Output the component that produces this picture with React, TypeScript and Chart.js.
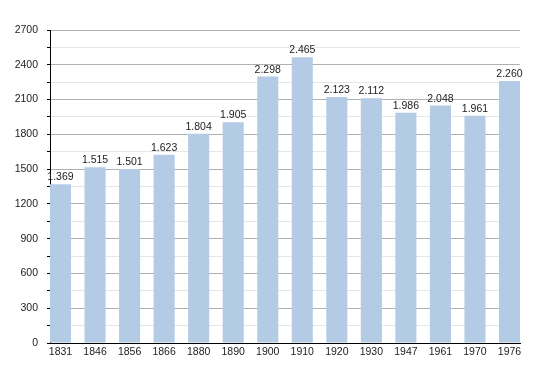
import React, { useEffect, useRef } from "react";
import { Chart, registerables } from "chart.js";

Chart.register(...registerables);

const years = ["1831", "1846", "1856", "1866", "1880", "1890", "1900", "1910", "1920", "1930", "1947", "1961", "1970", "1976"];
const population = [1369, 1515, 1501, 1623, 1804, 1905, 2298, 2465, 2123, 2112, 1986, 2048, 1961, 2260];
const yMax = 2700;
const yMajorStep = 300;
const yMinorStep = 150;

const FONT = "'Liberation Sans', Arial, Helvetica, sans-serif";
const FS = 10.5;

function fmt(v: number): string {
  return String(v).replace(/\B(?=(\d{3})+(?!\d))/g, ".");
}

const valueLabels = {
  id: "valueLabels",
  afterDatasetsDraw(chart: any) {
    const ctx = chart.ctx;
    const meta = chart.getDatasetMeta(0);
    ctx.save();
    ctx.font = `${FS}px ${FONT}`;
    ctx.fillStyle = "#222";
    ctx.textAlign = "center";
    ctx.textBaseline = "alphabetic";
    meta.data.forEach((el: any, i: number) => {
      ctx.fillText(fmt(population[i]), el.x, el.y - 4);
    });
    ctx.restore();
  },
};

export default function App() {
  const ref = useRef<HTMLCanvasElement>(null);
  useEffect(() => {
    if (!ref.current) return;
    const chart = new Chart(ref.current, {
      type: "bar",
      data: {
        datasets: [
          {
            data: population.map((v, i) => ({ x: i, y: v })),
            backgroundColor: "#b3cbe4",
            borderWidth: 0,
            categoryPercentage: 1,
            barPercentage: 0.61,
          },
        ],
      },
      options: {
        responsive: false,
        animation: false,
        devicePixelRatio: 1,
        layout: { padding: { left: 0, top: 30, right: 30, bottom: 0 } },
        plugins: { legend: { display: false }, tooltip: { enabled: false } },
        scales: {
          x: {
            type: "linear",
            offset: false,
            min: -0.304,
            max: years.length - 1 + 0.304,
            afterBuildTicks: (scale: any) => {
              scale.ticks = years.map((_, i) => ({ value: i }));
            },
            afterFit: (scale: any) => {
              scale.height = 30;
            },
            ticks: {
              autoSkip: false,
              maxRotation: 0,
              padding: 3,
              color: "#222",
              font: { family: FONT, size: FS },
              callback: (v: any) => years[v] ?? "",
            },
            grid: { display: false, drawTicks: false, tickLength: 0, offset: false },
            border: { display: true, color: "#000", width: 1 },
          },
          y: {
            min: 0,
            max: yMax,
            afterFit: (scale: any) => {
              scale.width = 50;
            },
            ticks: {
              stepSize: yMinorStep,
              autoSkip: false,
              padding: 9,
              color: "#222",
              font: { family: FONT, size: FS },
              callback: (v: any) => (Number(v) % yMajorStep === 0 ? String(v) : ""),
            },
            grid: {
              color: (c: any) => (c.tick && c.tick.value % yMajorStep === 0 ? "#b0b0b0" : "#e6e6e6"),
              tickColor: "#000",
              tickLength: 3,
              lineWidth: 1,
            },
            border: { display: true, color: "#000", width: 1 },
          },
        },
      },
      plugins: [valueLabels],
    } as any);
    return () => chart.destroy();
  }, []);
  return (
    <div style={{ position: "absolute", left: 0, top: 0, width: 550, height: 373, background: "#fff" }}>
      <canvas ref={ref} width={550} height={373} />
    </div>
  );
}
